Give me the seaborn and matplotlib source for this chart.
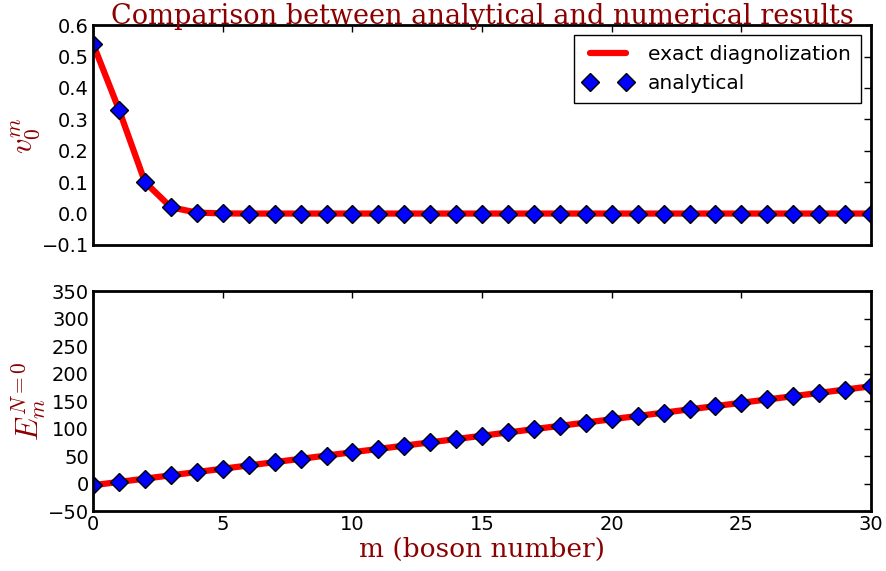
import numpy as np
import pandas as pd
import matplotlib
matplotlib.use("Agg")
import matplotlib.pyplot as plt
import seaborn as sns

# boson number m = 0..30
m_values = list(range(31))

# ground-state amplitude v_0^m
v0_values = [0.54, 0.33, 0.10, 0.02, 0.003, 0.0004, 0.0, 0.0, 0.0, 0.0,
             0.0, 0.0, 0.0, 0.0, 0.0, 0.0, 0.0, 0.0, 0.0, 0.0,
             0.0, 0.0, 0.0, 0.0, 0.0, 0.0, 0.0, 0.0, 0.0, 0.0, 0.0]

# energy E_m^{N=0}
energy_values = [-3, 3, 9, 15, 21, 27, 33, 39, 45, 51,
                 57, 63, 69, 75, 81, 87, 93, 99, 105, 111,
                 117, 123, 129, 135, 141, 147, 153, 159, 165, 171, 177]

df = pd.DataFrame({"m": m_values, "v0": v0_values, "E": energy_values})

sns.set_style("white")
plt.rcParams["font.family"] = ["DejaVu Sans"]
plt.rcParams["mathtext.fontset"] = "cm"
plt.rcParams["text.color"] = "black"

fig = plt.figure(figsize=(8.87, 5.71), dpi=100)
ax1 = fig.add_axes([0.105, 0.571, 0.877, 0.385])
ax2 = fig.add_axes([0.105, 0.105, 0.877, 0.385])

label_color = "#8B0000"

for ax, col in ((ax1, "v0"), (ax2, "E")):
    sns.lineplot(data=df, x="m", y=col, ax=ax, color="red", linewidth=4.5,
                 label="exact diagnolization", legend=False)
    sns.lineplot(data=df, x="m", y=col, ax=ax, color="blue", linestyle="",
                 marker="D", markersize=9.5, markeredgecolor="black",
                 markeredgewidth=1.0, label="analytical", legend=False)
    ax.set_xlim(0, 30)
    for s in ax.spines.values():
        s.set_linewidth(2)
        s.set_color("black")
        s.set_visible(True)
    ax.tick_params(direction="in", top=True, right=True, length=5, width=1,
                   labelsize=14, colors="black", pad=3)
    ax.set_xticks([0, 5, 10, 15, 20, 25, 30])

ax1.set_ylim(-0.1, 0.6)
ax1.set_yticks(np.arange(-0.1, 0.61, 0.1))
ax1.set_yticklabels(["\u22120.1", "0.0", "0.1", "0.2", "0.3", "0.4", "0.5", "0.6"])
ax1.tick_params(labelbottom=False)
ax1.set_xlabel("")
ax1.set_ylabel(r"$v_0^m$", fontsize=22, color=label_color)
ax1.yaxis.set_label_coords(-0.066, 0.5)
ax1.set_title("Comparison between analytical and numerical results",
              fontsize=19.5, family="DejaVu Serif", color=label_color,
              y=1.0, pad=1)
leg = ax1.legend(loc="upper right", numpoints=2, fontsize=14.5, fancybox=False,
                 framealpha=1, edgecolor="black", borderaxespad=0.5,
                 handlelength=2.4, borderpad=0.5)
leg.get_frame().set_linewidth(1)
for t in leg.get_texts():
    t.set_color("black")

ax2.set_ylim(-50, 350)
ax2.set_yticks(range(-50, 351, 50))
ax2.set_yticklabels(["\u221250"] + [str(v) for v in range(0, 351, 50)])
ax2.set_ylabel(r"$E_m^{N=0}$", fontsize=22, color=label_color)
ax2.yaxis.set_label_coords(-0.058, 0.5)
ax2.set_xlabel("m (boson number)", fontsize=19, family="DejaVu Serif",
               color=label_color, labelpad=2)

fig.savefig("out.png", dpi=100)
